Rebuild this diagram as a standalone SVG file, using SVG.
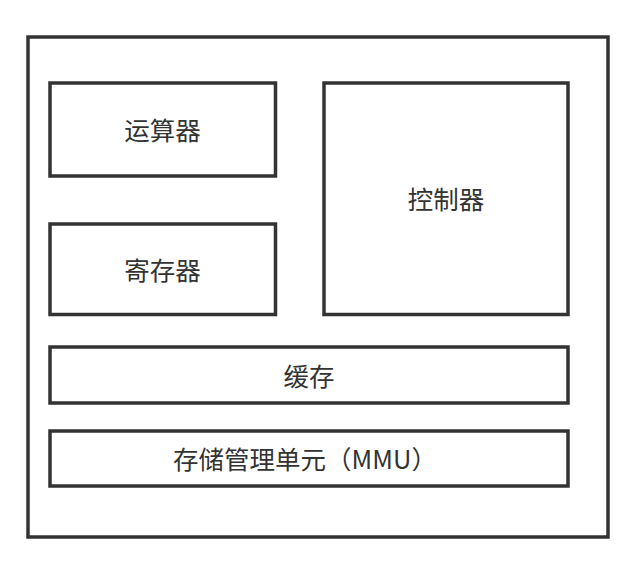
<svg xmlns="http://www.w3.org/2000/svg" width="634" height="572" viewBox="0 0 634 572">
<style>
.box{fill:#ffffff;stroke:#333333;stroke-width:3.5}
.lbl{font-family:"Noto Sans CJK SC","Noto Sans",sans-serif;font-size:25.5px;fill:#333333;text-anchor:middle;dominant-baseline:central}
</style>
<rect x="0" y="0" width="634" height="572" fill="#ffffff"/>
<g id="cpu"><rect class="box" x="28" y="37" width="580" height="500"/></g>
<g id="alu"><rect class="box" x="50" y="83" width="225.5" height="93"/><text class="lbl" x="162.5" y="128.5">运算器</text></g>
<g id="reg"><rect class="box" x="50" y="224" width="225.5" height="90.5"/><text class="lbl" x="162.5" y="268.5">寄存器</text></g>
<g id="ctrl"><rect class="box" x="324" y="83" width="244" height="231.5"/><text class="lbl" x="446" y="197.5">控制器</text></g>
<g id="cache"><rect class="box" x="50" y="347" width="518" height="56"/><text class="lbl" x="309" y="374">缓存</text></g>
<g id="mmu"><rect class="box" x="50" y="431" width="518" height="55"/><text class="lbl" x="305" y="457.5">存储管理单元（MMU）</text></g>
<g id="connectors"></g>
</svg>
